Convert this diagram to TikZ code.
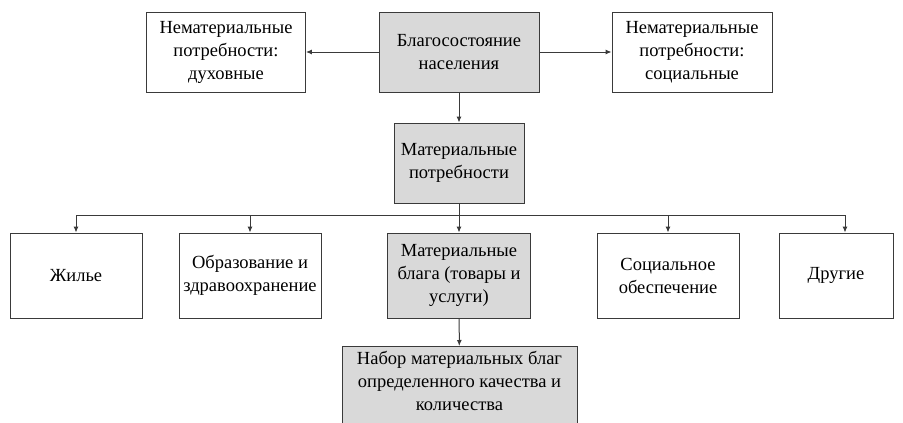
\documentclass[tikz,border=0pt]{standalone}
\usepackage{fontspec}
\setmainfont{Liberation Serif}
\usetikzlibrary{arrows.meta}
\definecolor{boxgrey}{HTML}{D9D9D9}
\definecolor{edge}{HTML}{3A3A3A}
\tikzset{
  txt/.style={font=\fontsize{18.5}{23}\selectfont, text=black},
  box/.style={draw=edge, line width=0.9pt, rectangle, align=center, inner sep=0pt, txt},
  greybox/.style={box, fill=boxgrey},
  conn/.style={draw=edge, line width=1pt, -{Latex[length=6pt,width=5pt]}},
}
\begin{document}
\begin{tikzpicture}[x=1pt,y=-1pt]
\useasboundingbox (0,0) rectangle (903,423);
\clip (0,0) rectangle (903,423);
\node[box, minimum width=159, minimum height=80] (dukh) at (226,52) {Нематериальные\\потребности:\\духовные};
\node[greybox, minimum width=160, minimum height=80] (blago) at (459,52) {Благосостояние\\населения};
\node[box, minimum width=160, minimum height=80] (soc) at (692,52) {Нематериальные\\потребности:\\социальные};
\node[greybox, minimum width=130, minimum height=80] (mat) at (459,163) {Материальные\\потребности};
\node[box, minimum width=132, minimum height=85] (zhil) at (76,275.5) {Жилье};
\node[box, minimum width=142, minimum height=85] (obr) at (250,275.5) {Образование и\\здравоохранение};
\node[greybox, minimum width=143, minimum height=85] (mblag) at (459,275.5) {Материальные\\блага (товары и\\услуги)};
\node[box, minimum width=142, minimum height=85] (sobes) at (668,275.5) {Социальное\\обеспечение};
\node[box, minimum width=114, minimum height=85] (drug) at (836,275.5) {Другие};
\node[greybox, minimum width=235, minimum height=90, anchor=north] (nabor) at (459.5,346) {};
\node[txt, align=center, anchor=north, inner sep=0pt] (nabortxt) at (459.5,351) {Набор материальных благ\\определенного качества и\\количества};
\coordinate (bus) at (459,215);
\draw[conn] (blago) -- (dukh);
\draw[conn] (blago) -- (soc);
\draw[conn] (blago) -- (mat);
\draw[conn] (mat.south) -- (mblag.north);
\draw[conn] (bus) -| (zhil.north);
\draw[conn] (bus) -| (obr.north);
\draw[conn] (bus) -| (sobes.north);
\draw[conn] (bus) -| ([xshift=9pt]drug.north);
\draw[conn] (mblag) -- (nabor);
\end{tikzpicture}
\end{document}
